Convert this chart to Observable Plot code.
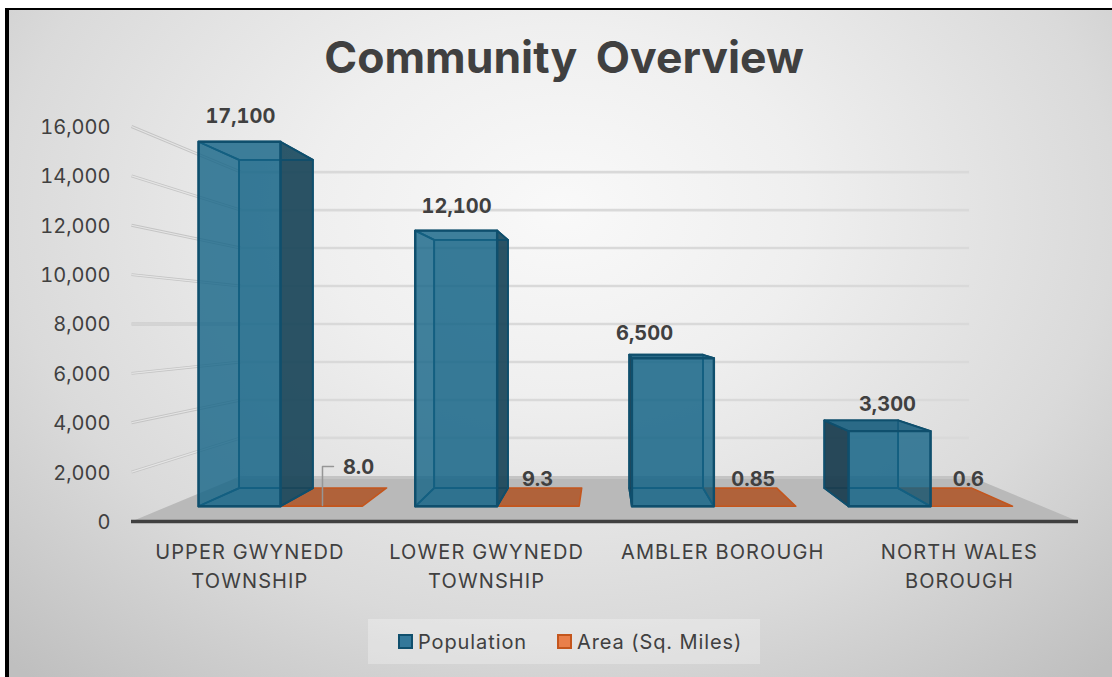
<!DOCTYPE html>
<html>
<head>
<meta charset="utf-8">
<script src="https://cdn.jsdelivr.net/npm/d3@7"></script>
<script src="https://cdn.jsdelivr.net/npm/@observablehq/plot@0.6"></script>
<style>
  html, body { margin: 0; padding: 0; background: #fff; overflow: hidden; }
  #card {
    position: absolute; left: 5px; top: 8px; width: 1107px; height: 669px; box-sizing: border-box;
    border-left: 4px solid #000; border-top: 2px solid #000;
    background: radial-gradient(ellipse 74% 92% at 50% 30%, #f9f9f9 0%, #efefef 30%, #dadada 68%, #bfbfbf 100%);
    font-family: Inter, sans-serif; color: #404040;
  }
  #title {
    position: absolute; left: -1px; width: 1112px; top: 19px; text-align: center;
    font-size: 44.5px; line-height: 56px; font-weight: 700; word-spacing: 8px;
  }
  #chart { position: absolute; left: -9px; top: 85px; }
  #legend {
    position: absolute; left: 359px; top: 609px; width: 392px; height: 45px;
    background: rgba(255,255,255,0.28); display: flex; align-items: center;
    font-size: 20px; letter-spacing: 0.9px;
  }
  #legend span.key { display: inline-block; width: 11px; height: 11px; border: 2px solid; margin-right: 5px; }
  #legend div { display: flex; align-items: center; }
</style>
</head>
<body>
<div id="card">
  <div id="title">Community Overview</div>
  <div id="chart"></div>
  <div id="legend"></div>
</div>
<script>
const categories = ["UPPER GWYNEDD\nTOWNSHIP", "LOWER GWYNEDD\nTOWNSHIP", "AMBLER BOROUGH", "NORTH WALES\nBOROUGH"];
const population = [17100, 12100, 6500, 3300];
const area = [8.0, 9.3, 0.85, 0.6];
const areaText = ["8.0", "9.3", "0.85", "0.6"];
const valueTicks = [0, 2000, 4000, 6000, 8000, 10000, 12000, 14000, 16000];
const seriesNames = ["Population", "Area (Sq. Miles)"];

// Depth model: everything shrinks toward the centre of the front plane.
const axisMax = 16000, vanishX = 2, vanishY = 8000;
const wallDepth = 0.769, barFront = 0.923, barBack = 0.831;
const slotStart = 0.14, slotStep = 0.9916, barWidth = 0.375;

const project = (cat, val, s) => ({x: vanishX + (cat - vanishX) * s, y: vanishY + (val - vanishY) * s});

// Label anchors, in category units and axis units on the front plane.
const populationLabelX = [0.46, 1.373, 2.167, 3.193];
const populationLabelY = [16405, 12760, 7615, 4739];
const areaLabelX = [0.959, 1.715, 2.627, 3.535];
const areaLabelY = [2187, 1701, 1701, 1701];
const categoryLabelX = [0.5, 1.5, 2.497, 3.497];
const leaderX = [0.8067, 0.8067, 0.853];
const leaderY = [648, 2228, 2228];

const blueLine = "#0f4f6d", orangeLine = "#c4561d";

function barFaces(left, value, series) {
  const right = left + barWidth, top = Math.min(value, axisMax);
  const quad = (a, b, c, d) => [a, b, c, d];
  const fb = (c, v) => project(c, v, barFront), bb = (c, v) => project(c, v, barBack);
  const faces = [];
  if (series === "area") {
    faces.push({pts: quad(fb(left, top), fb(right, top), bb(right, top), bb(left, top)),
      fill: "#b05f36", op: 0.97, stroke: orangeLine, sw: 1.6});
    return faces;
  }
  const leftX = project(left, 0, barFront).x, rightX = project(right, 0, barFront).x;
  const leftOuter = leftX > vanishX, rightOuter = rightX < vanishX, topOuter = top < vanishY;
  // Back wall, floor, then the two sides, lid and front, far faces first.
  faces.push({pts: quad(bb(left, 0), bb(right, 0), bb(right, top), bb(left, top)),
    fill: "#156082", op: 0.3, stroke: blueLine, sw: 1.8});
  faces.push({pts: quad(fb(left, 0), fb(right, 0), bb(right, 0), bb(left, 0)),
    fill: "#156082", op: 0.25, stroke: blueLine, sw: 1.8});
  faces.push({pts: quad(fb(left, 0), bb(left, 0), bb(left, top), fb(left, top)),
    fill: leftOuter ? "#1c3e4f" : "#156082", op: leftOuter ? 0.92 : 0.1, stroke: blueLine, sw: 1.8});
  faces.push({pts: quad(fb(right, 0), bb(right, 0), bb(right, top), fb(right, top)),
    fill: rightOuter ? "#1c4659" : "#156082", op: rightOuter ? 0.9 : 0.1, stroke: blueLine, sw: 1.8});
  faces.push({pts: quad(fb(left, top), fb(right, top), bb(right, top), bb(left, top)),
    fill: topOuter ? "#1a5f7e" : "#156082", op: topOuter ? 0.88 : 0.15, stroke: blueLine, sw: 1.8});
  faces.push({pts: quad(fb(left, 0), fb(right, 0), fb(right, top), fb(left, top)),
    fill: "#146486", op: 0.78, stroke: blueLine, sw: 2.4});
  return faces;
}

const slots = categories.map((_, i) => slotStart + i * slotStep);
const areaFaces = area.flatMap((v, i) => barFaces(slots[i] + barWidth, v, "area"));
const popFaces = population.flatMap((v, i) => barFaces(slots[i], v, "population"));

const gridValues = valueTicks.slice(1);
const wallLines = gridValues.map(v => [project(0, v, 1), project(0, v, wallDepth)]);
const backLines = gridValues.map(v => [project(0, v, wallDepth), project(4, v, wallDepth)]);

const floor = [project(0, 0, 1), project(4, 0, 1), project(4, 0, wallDepth), project(0, 0, wallDepth)];
const floorLip = [project(0, 0, 0.785), project(4, 0, 0.785), project(4, 0, wallDepth), project(0, 0, wallDepth)];

const polygon = (pts, o) => Plot.line(pts, {x: "x", y: "y", curve: "linear-closed", ...o});
const segment = (pts, o) => Plot.line(pts, {x: "x", y: "y", strokeLinecap: "butt", ...o});
const boldLabel = {fontSize: 20, fontWeight: 700, fill: "#404040", textAnchor: "middle", fontVariant: "tabular-nums"};

const plot = Plot.plot({
  width: 1112, height: 505,
  marginLeft: 131, marginRight: 34, marginTop: 31, marginBottom: 79,
  x: {domain: [0, 4], axis: null},
  y: {domain: [0, axisMax]},
  style: {background: "transparent", fontFamily: "Inter, sans-serif", overflow: "visible"},
  marks: [
    polygon(floor, {fill: "#b9b9b9"}),
    polygon(floorLip, {fill: "#c4c4c4"}),
    ...wallLines.map(l => segment(l, {stroke: "#c4c4c4", strokeWidth: 3})),
    ...wallLines.map(l => segment(l, {stroke: "#e4e4e4", strokeWidth: 1.2})),
    ...backLines.map(l => segment(l, {stroke: "#d9d9d9", strokeWidth: 2.6})),
    ...areaFaces.map(f => polygon(f.pts, {fill: f.fill, fillOpacity: f.op, stroke: f.stroke, strokeWidth: f.sw})),
    ...popFaces.map(f => polygon(f.pts, {fill: f.fill, fillOpacity: f.op, stroke: f.stroke, strokeWidth: f.sw})),
    Plot.ruleY([0], {stroke: "#404040", strokeWidth: 3.5}),
    Plot.axisY({ticks: valueTicks, tickSize: 0, tickPadding: 21, tickFormat: d3.format(","), label: null,
      fontSize: 20, color: "#404040", dy: 1}),
    Plot.line(leaderX.map((x, i) => ({x, y: leaderY[i]})), {x: "x", y: "y", stroke: "#969696", strokeWidth: 1.5}),
    Plot.text(population, {x: (_, i) => populationLabelX[i], y: (_, i) => populationLabelY[i], text: d3.format(","), ...boldLabel}),
    Plot.text(areaText, {x: (_, i) => areaLabelX[i], y: (_, i) => areaLabelY[i], text: d => d, ...boldLabel}),
    Plot.text(categories, {x: (_, i) => categoryLabelX[i], y: 0, text: d => d, lineAnchor: "top", dy: 17,
      fontSize: 20, lineHeight: 1.45, fill: "#404040", textAnchor: "middle"})
  ]
});
document.getElementById("chart").append(plot);
// Category names are set slightly tracked out.
plot.querySelectorAll("text").forEach(t => {
  if (/[A-Z]{3}/.test(t.textContent)) t.style.letterSpacing = "1.1px";
});

// Legend row under the chart.
const legend = document.getElementById("legend");
[[seriesNames[0], "#33789a", "#0f4f6d", 30], [seriesNames[1], "#e97f4a", "#c4561d", 30]].forEach(([name, fill, line, gap]) => {
  const row = document.createElement("div");
  row.style.marginLeft = gap + "px";
  const key = document.createElement("span");
  key.className = "key"; key.style.background = fill; key.style.borderColor = line;
  row.append(key, name);
  legend.append(row);
});
</script>
</body>
</html>
